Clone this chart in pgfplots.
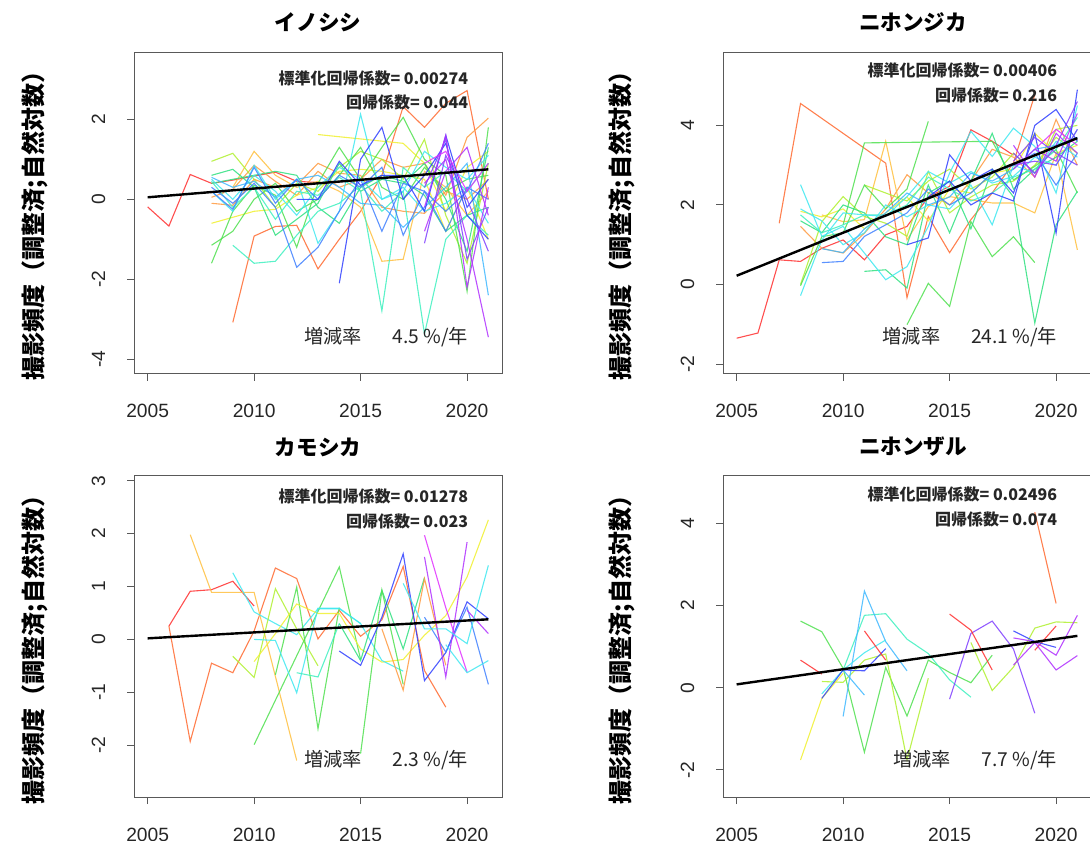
\documentclass[border=0pt]{standalone}
\usepackage{fontspec}
\setmainfont{Noto Sans CJK JP}
\newfontfamily\numfont{Liberation Sans}
\usepackage{pgfplots}
\pgfplotsset{compat=1.18}
\definecolor{r0}{HTML}{FF3030}
\definecolor{r1}{HTML}{FF6A30}
\definecolor{r2}{HTML}{FF9A40}
\definecolor{r3}{HTML}{FFC040}
\definecolor{r4}{HTML}{F0F030}
\definecolor{r5}{HTML}{B0F030}
\definecolor{r6}{HTML}{50E050}
\definecolor{r7}{HTML}{30E080}
\definecolor{r8}{HTML}{40F0C0}
\definecolor{r9}{HTML}{40E8F0}
\definecolor{r10}{HTML}{40B8FF}
\definecolor{r11}{HTML}{4080FF}
\definecolor{r12}{HTML}{3040FF}
\definecolor{r13}{HTML}{8040FF}
\definecolor{r14}{HTML}{B030FF}
\definecolor{r15}{HTML}{E030FF}
\newcommand{\sr}[2]{\addplot[#1, line width=0.55pt, opacity=0.85] coordinates {#2};}
\pgfplotsset{panel/.style={
  scale only axis, width=184pt, height=160.5pt, anchor=south west,
  xmin=2004.36, xmax=2021.64,
  xtick={2005,2010,2015,2020},
  axis line style={draw=black!65, line width=0.5pt},
  tick style={draw=black!65, line width=0.5pt},
  tick align=outside, major tick length=3.5pt,
  xtick pos=bottom, ytick pos=left,
  /pgf/number format/assume math mode=true,
  /pgf/number format/1000 sep={},
  ticklabel style={font=\numfont\fontsize{9.6}{11}\selectfont, text=black!85},
  xticklabel style={anchor=base, yshift=-18.5pt},
  yticklabel style={xshift=-11pt, rotate=90, anchor=base},
  clip=true,
}}
\newcommand{\coef}[5]{%
  \node[anchor=east, font=\bfseries\fontsize{8}{9}\selectfont, text=black!85] at (rel axis cs:0.927,#1) {標準化回帰係数= #2};
  \node[anchor=east, font=\bfseries\fontsize{8}{9}\selectfont, text=black!85] at (rel axis cs:0.927,#3) {回帰係数= #4};
  \node[anchor=east, font=\fontsize{9.6}{11}\selectfont, text=black!85] at (rel axis cs:0.927,0.115) {増減率\hspace{1.6em}#5 \%/年};}
\begin{document}
\begin{tikzpicture}
% ---------------- top left: イノシシ
\begin{axis}[panel, at={(67pt,233pt)}, ymin=-4.37, ymax=3.66, ytick={-4,-2,0,2}]
\sr{r0}{(2005,-0.19)(2006,-0.67)(2007,0.62)(2008,0.40)(2009,0.48)(2010,0.58)(2011,0.68)(2012,0.45)(2013,0.42)}
\sr{r1}{(2009,-3.08)(2010,-0.92)(2011,-0.68)(2012,-0.65)(2013,-1.74)(2014,-1.0)(2015,-0.3)(2016,0.6)(2017,2.32)(2018,1.8)(2019,2.4)(2020,2.72)(2021,0.0)}
\sr{r2}{(2008,0.05)(2009,0.25)(2010,0.85)(2011,0.45)(2012,0.1)(2013,0.7)(2014,0.3)(2015,0.5)(2016,1.0)(2017,0.8)(2018,0.9)(2019,0.1)(2020,1.55)(2021,2.03)}
\sr{r2}{(2008,-0.1)(2009,-0.15)(2010,0.5)(2011,0.3)(2012,0.35)(2013,0.9)(2014,0.65)(2015,0.6)(2016,-0.2)(2017,-0.3)(2018,-0.35)(2019,0.2)(2020,0.0)(2021,0.5)}
\sr{r3}{(2009,0.3)(2010,1.2)(2011,0.6)(2012,0.3)(2013,0.45)(2014,0.2)(2015,-0.2)(2016,-1.55)(2017,-1.5)(2018,0.7)(2019,0.3)(2020,-0.4)(2021,0.2)}
\sr{r4}{(2008,-0.6)(2009,-0.45)(2010,-0.3)(2011,-0.25)(2012,0.1)(2013,0.3)(2014,0.7)(2015,0.75)(2016,0.7)(2017,0.6)(2018,0.5)(2019,-0.8)(2020,0.3)(2021,-1.0)}
\sr{r4}{(2013,1.62)(2017,1.4)(2018,0.9)(2019,-0.3)(2020,0.8)(2021,1.2)}
\sr{r5}{(2008,0.95)(2009,1.15)(2010,0.5)(2011,-0.2)(2012,0.4)(2013,0.2)(2014,0.8)(2015,1.2)(2016,1.0)(2017,0.5)(2018,1.5)(2019,-0.4)(2020,-1.6)(2021,0.9)}
\sr{r6}{(2008,-1.6)(2009,-0.3)(2010,0.35)(2011,0.1)(2012,-1.2)(2013,0.4)(2014,1.3)(2015,0.5)(2016,1.3)(2017,2.05)(2018,1.0)(2019,0.6)(2020,-2.3)(2021,1.8)}
\sr{r6}{(2008,-1.15)(2009,-0.8)(2010,0.0)(2011,0.4)(2012,-0.3)(2013,0.0)(2014,0.6)(2015,1.3)(2016,0.3)(2017,0.0)(2018,0.8)(2019,0.2)(2020,0.5)(2021,0.6)}
\sr{r7}{(2008,0.6)(2009,0.75)(2010,0.3)(2011,-0.9)(2012,-0.5)(2013,-0.1)(2014,0.9)(2015,0.2)(2016,0.5)(2017,0.4)(2018,0.9)(2019,0.0)(2020,-1.3)(2021,1.3)}
\sr{r7}{(2008,0.4)(2009,0.5)(2010,0.6)(2011,0.7)(2012,0.6)(2013,-0.2)(2014,-0.6)(2015,0.3)(2016,0.6)(2017,0.45)(2018,0.1)(2019,-0.8)(2020,-0.4)(2021,-0.2)}
\sr{r8}{(2009,-1.15)(2010,-1.6)(2011,-1.55)(2012,-0.9)(2013,-0.3)(2014,-0.1)(2015,0.35)(2016,-0.3)(2017,0.2)(2018,-3.37)(2019,-1.0)(2020,-0.4)(2021,-0.9)}
\sr{r8}{(2008,0.45)(2009,-0.2)(2010,0.3)(2011,-0.5)(2012,0.2)(2013,0.1)(2014,0.55)(2015,0.2)(2016,-2.79)(2017,0.8)(2018,0.3)(2019,0.7)(2020,0.2)(2021,0.9)}
\sr{r9}{(2008,0.2)(2009,-0.3)(2010,0.85)(2011,0.0)(2012,0.5)(2013,-1.1)(2014,-0.3)(2015,2.13)(2016,0.0)(2017,0.3)(2018,-0.3)(2019,-0.1)(2020,0.3)(2021,-0.6)}
\sr{r9}{(2008,0.5)(2009,0.0)(2010,0.6)(2011,0.2)(2012,-0.4)(2013,0.3)(2014,0.8)(2015,0.5)(2016,0.0)(2017,0.2)(2018,1.2)(2019,0.8)(2020,0.5)(2021,1.1)}
\sr{r10}{(2008,0.55)(2009,0.3)(2010,0.45)(2011,0.05)(2012,0.5)(2013,0.6)(2014,0.3)(2015,-0.1)(2016,-0.15)(2017,-0.7)(2018,-0.2)(2019,0.3)(2020,0.9)(2021,-2.4)}
\sr{r11}{(2008,0.3)(2009,-0.1)(2010,0.4)(2011,-0.2)(2012,-1.7)(2013,-1.2)(2014,-0.3)(2015,0.5)(2016,-0.8)(2017,0.4)(2018,0.2)(2019,-0.3)(2020,0.2)(2021,1.4)}
\sr{r11}{(2008,0.2)(2009,-0.25)(2010,0.8)(2011,-0.1)(2012,0.5)(2013,0.0)(2014,0.6)(2015,0.3)(2016,0.8)(2017,-0.9)(2018,0.2)(2019,-0.8)(2020,0.3)(2021,0.0)}
\sr{r12}{(2014,-2.1)(2015,1.0)(2016,1.8)(2017,0.0)(2018,0.6)(2019,1.4)(2020,-0.4)(2021,-1.0)}
\sr{r12}{(2012,0.0)(2013,0.0)(2014,0.95)(2015,0.35)(2016,0.6)(2017,0.6)(2018,-0.3)(2019,1.6)(2020,-0.2)(2021,0.5)}
\sr{r13}{(2018,0.3)(2019,1.5)(2020,-1.5)(2021,-0.2)}
\sr{r13}{(2018,-1.1)(2019,1.1)(2020,0.0)(2021,-1.3)}
\sr{r14}{(2018,-0.2)(2019,1.6)(2020,-2.2)(2021,0.3)}
\sr{r14}{(2018,0.4)(2019,1.0)(2020,-1.0)(2021,-3.45)}
\sr{r14}{(2018,-0.8)(2019,0.7)(2020,1.3)(2021,-0.4)}
\sr{r15}{(2018,0.9)(2019,1.2)(2020,0.2)(2021,0.9)}
\addplot[black, line width=1.2pt] coordinates {(2005,0.05)(2021,0.75)};
\coef{0.922}{0.00274}{0.847}{0.044}{4.5}
\end{axis}
% ---------------- top right: ニホンジカ
\begin{axis}[panel, at={(361.5pt,233pt)}, ymin=-2.25, ymax=5.82, ytick={-2,0,2,4}]
\sr{r0}{(2005,-1.35)(2006,-1.22)(2007,0.62)(2008,0.58)(2009,0.91)(2010,1.12)(2011,0.62)(2012,1.25)(2013,1.46)(2014,2.2)(2015,2.47)(2016,3.89)(2017,3.6)(2018,3.25)}
\sr{r1}{(2007,1.54)(2008,4.55)(2012,3.05)(2013,-0.33)(2014,1.71)(2015,0.8)(2016,1.63)(2017,2.3)(2018,3.06)(2019,4.77)}
\sr{r2}{(2008,1.46)(2009,0.91)(2010,0.79)(2011,1.29)(2012,1.9)(2013,2.76)(2014,2.3)(2015,2.0)(2016,2.6)(2017,3.4)(2018,3.2)(2019,2.7)(2020,4.15)(2021,3.0)}
\sr{r3}{(2009,1.75)(2010,1.58)(2011,1.63)(2012,3.6)(2013,1.12)(2014,1.96)(2015,2.21)(2016,2.13)(2017,2.05)(2018,2.05)(2019,1.8)(2020,3.3)(2021,0.87)}
\sr{r4}{(2008,1.84)(2009,1.7)(2010,1.9)(2011,1.4)(2012,1.8)(2013,2.2)(2014,1.6)(2015,2.4)(2016,2.3)(2017,2.8)(2018,2.9)(2019,3.8)(2020,3.3)(2021,3.5)}
\sr{r5}{(2008,0.0)(2009,1.58)(2010,2.21)(2011,1.71)(2012,1.54)(2013,1.21)(2014,2.84)(2015,1.8)(2016,2.2)(2017,2.5)(2018,2.6)(2019,3.0)(2020,3.7)(2021,3.3)}
\sr{r5}{(2011,2.5)(2012,2.3)(2013,2.1)(2014,2.6)(2015,2.9)(2016,2.4)(2017,2.7)(2018,3.3)(2019,2.8)(2020,3.9)(2021,4.0)}
\sr{r6}{(2010,1.5)(2011,3.56)(2017,3.6)(2018,2.63)(2019,2.97)(2020,3.39)(2021,2.3)}
\sr{r6}{(2008,-0.03)(2009,1.2)(2010,1.3)(2011,2.5)(2012,1.9)(2013,2.4)(2014,4.1)}
\sr{r6}{(2013,-1.01)(2014,0.03)(2015,-0.55)(2016,1.58)(2017,0.7)(2018,1.2)(2019,0.55)}
\sr{r7}{(2011,0.33)(2012,0.37)(2013,-0.09)(2014,2.3)(2015,2.6)(2016,1.4)(2017,2.9)(2018,2.2)(2019,-0.97)(2020,1.5)(2021,2.34)}
\sr{r7}{(2008,1.6)(2009,1.3)(2010,2.0)(2011,1.8)(2012,1.2)(2013,1.0)(2014,2.5)(2015,1.3)(2016,2.6)(2017,3.8)(2018,2.4)(2019,2.9)(2020,3.2)(2021,3.6)}
\sr{r8}{(2008,1.75)(2009,1.3)(2010,1.5)(2011,1.75)(2012,1.75)(2013,2.0)(2014,2.7)(2015,2.4)(2016,2.1)(2017,2.3)(2018,2.7)(2019,2.9)(2020,3.4)(2021,4.2)}
\sr{r9}{(2008,2.51)(2009,1.21)(2010,1.46)(2011,0.79)(2012,0.12)(2013,0.45)(2014,1.46)(2015,2.8)(2016,3.85)(2017,3.22)(2018,3.93)(2019,3.47)(2020,2.3)(2021,4.5)}
\sr{r9}{(2008,-0.28)(2009,1.12)(2010,1.8)(2011,1.75)(2012,1.71)(2013,2.21)(2014,2.84)(2015,2.55)(2016,2.84)(2017,2.55)(2018,2.72)(2019,3.2)(2020,3.0)(2021,3.9)}
\sr{r9}{(2008,1.9)(2009,1.6)(2010,1.0)(2011,1.3)(2012,2.0)(2013,1.7)(2014,2.0)(2015,1.9)(2016,2.5)(2017,1.5)(2018,3.0)(2019,2.8)(2020,3.6)(2021,3.2)}
\sr{r10}{(2009,0.9)(2010,0.8)(2011,1.4)(2012,1.8)(2013,2.3)(2014,2.0)(2015,2.2)(2016,2.8)(2017,2.6)(2018,2.9)(2019,3.4)(2020,3.5)(2021,3.7)}
\sr{r11}{(2009,0.55)(2010,0.58)(2011,1.21)(2012,1.5)(2013,1.8)(2014,2.4)(2015,2.0)(2016,2.3)(2017,2.8)(2018,3.0)(2019,3.3)(2020,2.5)(2021,3.3)}
\sr{r12}{(2013,1.0)(2014,1.17)(2015,3.26)(2016,2.6)(2017,2.9)(2018,2.3)(2019,3.8)(2020,1.29)(2021,4.9)}
\sr{r12}{(2014,2.2)(2015,2.6)(2016,2.0)(2017,2.3)(2018,2.1)(2019,4.0)(2020,4.4)(2021,3.6)}
\sr{r13}{(2018,3.3)(2019,2.8)(2020,3.5)(2021,4.6)}
\sr{r13}{(2018,3.0)(2019,3.1)(2020,3.0)(2021,3.9)}
\sr{r13}{(2018,3.1)(2019,3.7)(2020,3.3)(2021,3.0)}
\sr{r14}{(2018,2.9)(2019,3.4)(2020,3.1)(2021,4.3)}
\sr{r14}{(2018,3.5)(2019,2.7)(2020,3.8)(2021,3.3)}
\sr{r15}{(2019,3.4)(2020,3.9)(2021,3.5)}
\addplot[black, line width=1.2pt] coordinates {(2005,0.22)(2021,3.68)};
\coef{0.947}{0.00406}{0.869}{0.216}{24.1}
\end{axis}
% ---------------- bottom left: カモシカ
\begin{axis}[panel, at={(67pt,21.5pt)}, ymin=-2.98, ymax=3.09, ytick={-2,-1,0,1,2,3}]
\sr{r0}{(2006,0.25)(2007,0.91)(2008,0.94)(2009,1.10)(2010,0.63)}
\sr{r1}{(2006,0.25)(2007,-1.93)(2008,-0.45)(2009,-0.63)(2010,0.16)(2011,1.35)(2012,1.15)(2013,0.01)(2014,0.55)(2015,0.06)(2016,0.37)(2017,1.38)(2018,-0.59)(2019,-1.28)}
\sr{r3}{(2007,1.98)(2008,0.89)(2009,0.89)(2010,0.89)(2011,-0.7)(2012,-2.29)}
\sr{r9}{(2009,1.26)(2010,0.52)(2011,0.30)(2012,0.09)(2013,0.58)(2014,0.58)(2015,0.30)}
\sr{r5}{(2009,-0.32)(2010,-0.72)(2011,0.96)(2012,0.20)(2013,-0.5)}
\sr{r6}{(2011,-0.67)(2012,0.99)(2013,-1.69)(2014,0.60)}
\sr{r6}{(2010,-1.99)(2014,1.37)(2015,-0.38)}
\sr{r4}{(2010,-0.42)(2011,0.11)(2012,0.67)(2013,0.49)(2014,0.49)(2015,-0.18)(2016,-0.43)(2017,-0.38)(2018,0.08)(2019,0.45)(2020,1.18)(2021,2.26)}
\sr{r9}{(2010,0.0)(2011,-0.02)(2012,-1.01)(2013,0.59)(2014,0.59)(2015,0.30)(2016,-0.40)(2017,-0.60)}
\sr{r8}{(2012,-0.63)(2013,-0.71)(2014,0.3)}
\sr{r7}{(2014,0.3)(2015,-0.4)(2016,0.93)(2017,-0.18)(2018,1.17)}
\sr{r6}{(2015,-2.16)(2016,0.93)(2017,-0.85)}
\sr{r2}{(2016,0.2)(2017,-0.96)(2018,1.15)(2019,-0.49)}
\sr{r12}{(2014,-0.22)(2015,-0.49)(2016,0.42)(2017,1.62)(2018,-0.78)(2019,-0.25)(2020,0.71)(2021,0.39)}
\sr{r11}{(2018,0.42)(2019,-0.24)(2020,0.61)(2021,-0.85)}
\sr{r15}{(2018,1.97)(2019,0.6)(2020,-0.62)}
\sr{r14}{(2018,1.56)(2019,-0.71)(2020,1.84)}
\sr{r14}{(2020,0.55)(2021,0.11)}
\sr{r9}{(2017,1.06)(2018,0.20)(2019,0.20)(2020,-0.08)(2021,1.40)}
\sr{r9}{(2019,-0.1)(2020,-0.63)(2021,-0.40)}
\addplot[black, line width=1.2pt] coordinates {(2005,0.02)(2021,0.38)};
\coef{0.935}{0.01278}{0.857}{0.023}{2.3}
\end{axis}
% ---------------- bottom right: ニホンザル
\begin{axis}[panel, at={(361.5pt,21.5pt)}, ymin=-2.66, ymax=5.15, ytick={-2,0,2,4}]
\sr{r1}{(2019,4.27)(2020,2.05)}
\sr{r0}{(2008,0.67)(2009,0.33)}
\sr{r6}{(2008,1.62)(2009,1.36)(2010,0.47)(2011,-1.57)(2012,0.49)(2013,-0.69)(2014,0.67)(2015,0.37)(2016,0.12)(2017,0.79)}
\sr{r8}{(2010,0.43)(2011,1.76)(2012,1.80)(2013,1.18)(2014,0.83)(2015,0.19)(2016,-0.23)}
\sr{r5}{(2009,0.15)(2010,0.13)(2011,0.67)(2012,0.82)(2013,-1.76)(2014,0.23)}
\sr{r5}{(2016,1.1)(2017,-0.07)(2018,0.5)(2019,1.45)(2020,1.6)(2021,1.58)}
\sr{r4}{(2008,-1.76)(2009,-0.26)(2010,0.35)}
\sr{r10}{(2010,-0.70)(2011,2.35)(2012,1.12)(2013,0.41)}
\sr{r9}{(2009,-0.15)(2010,0.43)(2011,0.85)(2012,1.16)}
\sr{r10}{(2010,0.43)(2011,-0.18)}
\sr{r12}{(2009,-0.26)(2010,0.43)(2011,0.41)(2012,0.95)}
\sr{r13}{(2015,-0.28)(2016,1.32)(2017,1.62)(2018,0.94)(2019,-0.62)}
\sr{r0}{(2011,1.38)(2012,0.67)}
\sr{r0}{(2015,1.79)(2016,1.40)(2017,0.43)}
\sr{r0}{(2019,0.91)(2020,1.50)}
\sr{r12}{(2018,1.38)(2019,1.12)(2020,0.98)}
\sr{r14}{(2018,1.21)(2019,1.12)(2020,0.79)(2021,1.76)}
\sr{r14}{(2018,0.55)(2019,1.1)(2020,0.43)(2021,0.78)}
\addplot[black, line width=1.2pt] coordinates {(2005,0.08)(2021,1.26)};
\coef{0.944}{0.02496}{0.866}{0.074}{7.7}
\end{axis}
% titles and y labels
\node[font=\bfseries\fontsize{10.8}{12}\selectfont] at (159pt,409pt) {イノシシ};
\node[font=\bfseries\fontsize{10.8}{12}\selectfont] at (456.5pt,409pt) {ニホンジカ};
\node[font=\bfseries\fontsize{10.8}{12}\selectfont] at (159pt,196.5pt) {カモシカ};
\node[font=\bfseries\fontsize{10.8}{12}\selectfont] at (456.5pt,196.5pt) {ニホンザル};
\node[rotate=90, font=\bfseries\fontsize{12}{13}\selectfont] at (17.5pt,310pt) {撮影頻度（調整済;自然対数）};
\node[rotate=90, font=\bfseries\fontsize{12}{13}\selectfont] at (311pt,310pt) {撮影頻度（調整済;自然対数）};
\node[rotate=90, font=\bfseries\fontsize{12}{13}\selectfont] at (17.5pt,98pt) {撮影頻度（調整済;自然対数）};
\node[rotate=90, font=\bfseries\fontsize{12}{13}\selectfont] at (311pt,98pt) {撮影頻度（調整済;自然対数）};
\pgfresetboundingbox
\useasboundingbox (0,0) rectangle (545pt,420pt);
\end{tikzpicture}
\end{document}
